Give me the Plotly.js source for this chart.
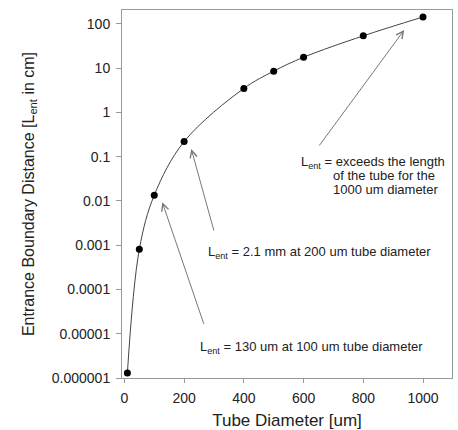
<!DOCTYPE html>
<html>
<head>
<meta charset="utf-8">
<script src="https://cdn.plot.ly/plotly-3.0.1.min.js"></script>
<style>html,body{margin:0;padding:0;background:#fff;}#chart{width:458px;height:430px;}</style>
</head>
<body>
<div id="chart"></div>
<script>
// Data
const diameters = [10, 50, 100, 200, 400, 500, 600, 800, 1000];          // Tube diameter [um]
const lentValues = [1.3e-6, 8.1e-4, 0.0135, 0.22, 3.5, 8.6, 17.7, 54, 144]; // L_ent [cm]

const yTickVals = [1e-6, 1e-5, 1e-4, 1e-3, 1e-2, 1e-1, 1, 10, 100];
const yTickText = ["0.000001", "0.00001", "0.0001", "0.001", "0.01", "0.1", "1", "10", "100"];
const xTickVals = [0, 200, 400, 600, 800, 1000];
const xTickText = ["0", "200", "400", "600", "800", "1000"];

const noteTexts = [
  "L<sub>ent</sub> = exceeds the length",
  "of the tube for the",
  "1000 um diameter",
  "L<sub>ent</sub> = 2.1 mm at 200 um tube diameter",
  "L<sub>ent</sub> = 130 um at 100 um tube diameter"
];

const FONT = "Liberation Sans, Arial, sans-serif";

const trace = {
  x: diameters,
  y: lentValues,
  type: "scatter",
  mode: "lines+markers",
  line: {color: "#444", width: 1, shape: "spline", smoothing: 1},
  marker: {color: "#000", size: 7},
  hoverinfo: "skip",
  showlegend: false
};

function arrow(x, ylog, ax, ay) {
  return {
    x: x, y: ylog, xref: "x", yref: "y", ax: ax, ay: ay,
    text: "", showarrow: true, arrowhead: 5, arrowsize: 1.4, arrowwidth: 1,
    arrowcolor: "#777", standoff: 0
  };
}
function note(text, x, ylog, xanchor) {
  return {
    x: x, y: ylog, xref: "x", yref: "y", text: text, showarrow: false,
    xanchor: xanchor, yanchor: "middle",
    font: {family: FONT, size: 13, color: "#222"}
  };
}

const layout = {
  width: 458, height: 430,
  margin: {l: 122, r: 6, t: 10, b: 52},
  paper_bgcolor: "#fff", plot_bgcolor: "#fff",
  font: {family: FONT, color: "#222"},
  xaxis: {
    range: [-8, 1097],
    tickvals: xTickVals, ticktext: xTickText,
    ticks: "outside", ticklen: 4, tickcolor: "#999",
    showgrid: false, zeroline: false,
    showline: true, linecolor: "#999", linewidth: 1, mirror: true,
    tickfont: {family: FONT, size: 14, color: "#222"},
    ticklabelstandoff: 3,
    title: {text: "Tube Diameter [um]", font: {family: FONT, size: 17, color: "#222"}, standoff: 12}
  },
  yaxis: {
    type: "log",
    range: [-6, 2.316],
    tickvals: yTickVals, ticktext: yTickText,
    ticks: "outside", ticklen: 5, tickcolor: "#999",
    showgrid: false, zeroline: false,
    showline: true, linecolor: "#999", linewidth: 1, mirror: true,
    tickfont: {family: FONT, size: 14, color: "#222"},
    ticklabelstandoff: 3,
    title: {text: "Entrance Boundary Distance [L<sub>ent</sub> in cm]", font: {family: FONT, size: 16, color: "#222"}, standoff: 13}
  },
  annotations: [
    arrow(937, 1.864, -86, 117),
    arrow(224, -0.826, 23, 83),
    arrow(127, -2.03, 42, 123),
    note(noteTexts[0], 1081, -1.119, "right"),
    note(noteTexts[1], 1048, -1.435, "right"),
    note(noteTexts[2], 1056, -1.751, "right"),
    note(noteTexts[3], 274, -3.175, "left"),
    note(noteTexts[4], 248, -5.30, "left")
  ]
};

Plotly.newPlot("chart", [trace], layout, {displayModeBar: false, staticPlot: true});
</script>
</body>
</html>
